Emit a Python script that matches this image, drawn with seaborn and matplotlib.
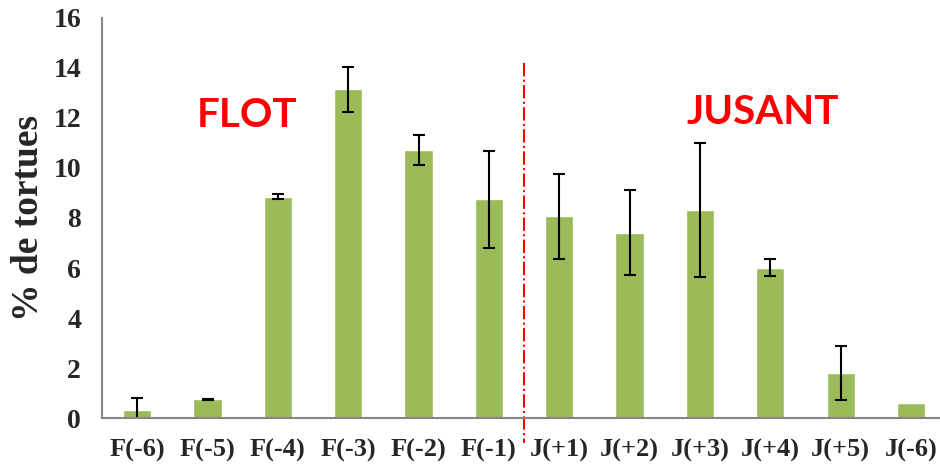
import matplotlib
matplotlib.use("Agg")
import matplotlib.pyplot as plt
import seaborn as sns
import numpy as np
import pandas as pd

categories = ["F(-6)", "F(-5)", "F(-4)", "F(-3)", "F(-2)", "F(-1)",
              "J(+1)", "J(+2)", "J(+3)", "J(+4)", "J(+5)", "J(-6)"]
pct_tortues = [0.33, 0.76, 8.85, 13.14, 10.72, 8.74,
               8.06, 7.42, 8.31, 6.02, 1.81, 0.60]
erreur = [0.49, 0.03, 0.10, 0.90, 0.60, 1.92,
          1.70, 1.71, 2.67, 0.33, 1.09, 0.0]

df = pd.DataFrame({"periode": categories, "pct": pct_tortues, "err": erreur})

sns.set_style("white")
serif = ["Liberation Serif", "DejaVu Serif"]

fig = plt.figure(figsize=(9.4, 4.68), dpi=100)
ax = fig.add_axes([0.1085, 0.1062, 0.898, 0.856])

sns.barplot(data=df, x="periode", y="pct", color="#9BBB59", saturation=1,
            width=0.40, ax=ax)
x = np.arange(len(categories))
has_err = df["err"] > 0
ax.errorbar(x[has_err], df["pct"][has_err], yerr=df["err"][has_err], fmt="none",
            ecolor="black", elinewidth=1.5, capsize=4, capthick=1.5)

ax.set_xlim(-0.5, len(categories) - 0.5)
ax.set_ylim(0, 16)
ax.set_yticks(np.arange(0, 17, 2))

# ticks: marks at category boundaries, labels at centres
ax.set_xticks(x)
ax.set_xticks(np.arange(-0.5, len(categories), 1), minor=True)
ax.tick_params(axis="x", which="major", length=0, pad=15)
ax.tick_params(axis="x", which="minor", length=6, width=1.2, color="#868686", direction="out")
ax.tick_params(axis="y", length=5, width=1.2, color="#868686", direction="out", pad=10)
for lab in ax.get_xticklabels():
    lab.set_fontfamily(serif)
    lab.set_fontweight("bold")
    lab.set_fontsize(19)
for lab in ax.get_yticklabels():
    lab.set_fontfamily(serif)
    lab.set_fontweight("bold")
    lab.set_fontsize(20)

for side in ["top", "right"]:
    ax.spines[side].set_visible(False)
for side in ["left", "bottom"]:
    ax.spines[side].set_color("#868686")
    ax.spines[side].set_linewidth(1.5)

ax.set_xlabel("")
ax.set_ylabel("% de tortues", family=serif, fontweight="bold", fontsize=27)
ax.yaxis.set_label_coords(-0.066, 0.5)

# separation flot / jusant
ax.plot([5.5, 5.5], [14.2, -1.0], color="red", lw=1.5, ls="-.", clip_on=False)

ax.text(1.56, 12.1, "FLOT", color="red", fontsize=29, fontweight="bold",
        family=["Lato", "DejaVu Sans"], ha="center", va="center")
ax.text(8.9, 12.2, "JUSANT", color="red", fontsize=29, fontweight="bold",
        family=["Lato", "DejaVu Sans"], ha="center", va="center")

fig.savefig("out.png", dpi=100)
